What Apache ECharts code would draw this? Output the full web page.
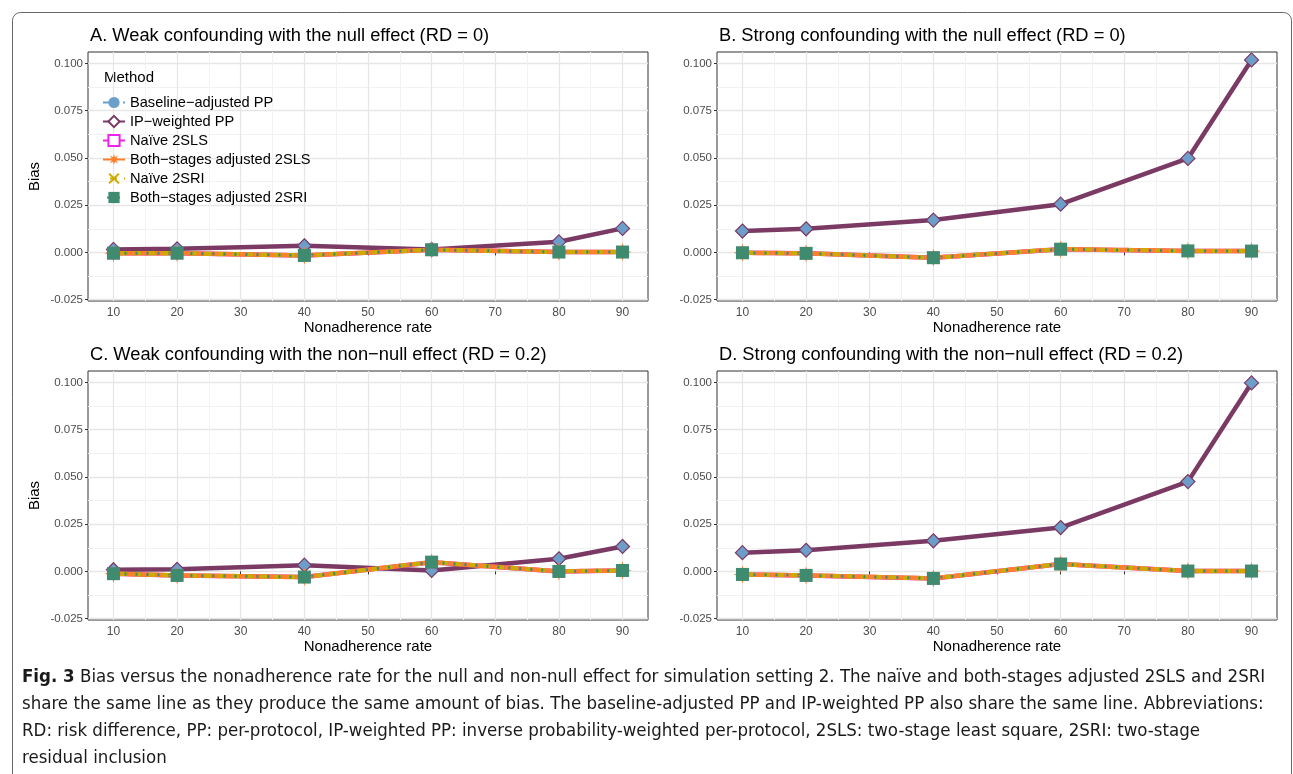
<!DOCTYPE html>
<html>
<head>
<meta charset="utf-8">
<script src="https://cdn.jsdelivr.net/npm/echarts@6/dist/echarts.min.js"></script>
<style>
  html, body { margin: 0; background: #fff; }
  #chart { width: 1293px; height: 774px; }
</style>
</head>
<body>
<div id="chart"></div>
<script>
// nonadherence rate (%) on the x axis
const nonadherence = [10, 20, 40, 60, 80, 90];

// bias; PP methods share one line, IV methods share another
const weakNullPP = [0.0016, 0.0019, 0.0035, 0.0016, 0.0056, 0.0127];
const weakNullIV = [-0.0004, -0.0004, -0.0016, 0.0014, 0.0002, 0.0002];
const strongNullPP = [0.0113, 0.0125, 0.0171, 0.0255, 0.0497, 0.1018];
const strongNullIV = [-0.0002, -0.0005, -0.0028, 0.0017, 0.0008, 0.0007];
const weakNonNullPP = [0.0009, 0.0011, 0.0033, 0.0005, 0.0067, 0.0132];
const weakNonNullIV = [-0.0012, -0.0021, -0.0030, 0.0049, 0.0000, 0.0005];
const strongNonNullPP = [0.0099, 0.0112, 0.0162, 0.0232, 0.0475, 0.0997];
const strongNonNullIV = [-0.0016, -0.0021, -0.0037, 0.0039, 0.0002, 0.0002];

const xTicks = [10, 20, 30, 40, 50, 60, 70, 80, 90];
const xMinor = [15, 25, 35, 45, 55, 65, 75, 85];
const yTicks = [-0.025, 0, 0.025, 0.05, 0.075, 0.1];
const yMinor = [-0.0125, 0.0125, 0.0375, 0.0625, 0.0875];

const methods = [
  "Baseline\u2212adjusted PP",
  "IP\u2212weighted PP",
  "Na\u00efve 2SLS",
  "Both\u2212stages adjusted 2SLS",
  "Na\u00efve 2SRI",
  "Both\u2212stages adjusted 2SRI",
];

const panelTitles = [
  "A. Weak confounding with the null effect (RD = 0)",
  "B. Strong confounding with the null effect (RD = 0)",
  "C. Weak confounding with the non\u2212null effect (RD = 0.2)",
  "D. Strong confounding with the non\u2212null effect (RD = 0.2)",
];
const panelPP = [weakNullPP, strongNullPP, weakNonNullPP, strongNonNullPP];
const panelIV = [weakNullIV, strongNullIV, weakNonNullIV, strongNonNullIV];

const FONT = "Liberation Sans";

// symbol paths
function starPath() {
  let d = "path://";
  for (let i = 0; i < 16; i++) {
    const a = (Math.PI / 8) * i - Math.PI / 2;
    const r = i % 2 === 0 ? 10 : 4.5;
    d += (i === 0 ? "M" : "L") + (r * Math.cos(a)).toFixed(2) + "," + (r * Math.sin(a)).toFixed(2) + " ";
  }
  return d + "Z";
}
const xPath = "path://M-10,-7.5 L-7.5,-10 L0,-2.5 L7.5,-10 L10,-7.5 L2.5,0 L10,7.5 L7.5,10 L0,2.5 L-7.5,10 L-10,7.5 L-2.5,0 Z";

const grids = [
  { left: 88, top: 52, width: 560, height: 249 },
  { left: 717, top: 52, width: 560, height: 249 },
  { left: 88, top: 371, width: 560, height: 249 },
  { left: 717, top: 371, width: 560, height: 249 },
];

const xAxes = [];
const yAxes = [];
const series = [];
const titles = [];

grids.forEach(function (g, i) {
  g.show = true;
  g.borderColor = "#333";
  g.borderWidth = 1;
  g.backgroundColor = "#fff";

  // minor grid axes
  xAxes.push({
    type: "value", gridIndex: i, min: 6, max: 94, position: "top",
    axisLine: { show: false }, axisLabel: { show: false },
    axisTick: { show: false, customValues: xMinor },
    splitLine: { show: true, lineStyle: { color: "#f2f2f2", width: 1 } },
  });
  yAxes.push({
    type: "value", gridIndex: i, min: -0.0257, max: 0.106, position: "right",
    axisLine: { show: false }, axisLabel: { show: false },
    axisTick: { show: false, customValues: yMinor },
    splitLine: { show: true, lineStyle: { color: "#f2f2f2", width: 1 } },
  });
  // main axes
  xAxes.push({
    type: "value", gridIndex: i, min: 6, max: 94, position: "bottom",
    name: "Nonadherence rate", nameLocation: "middle", nameGap: 18,
    nameTextStyle: { fontFamily: FONT, fontSize: 15, color: "#000" },
    axisLine: { show: false },
    axisTick: { show: true, length: 3, customValues: xTicks, lineStyle: { color: "#333" } },
    axisLabel: { customValues: xTicks, fontFamily: FONT, fontSize: 12, color: "#4d4d4d", margin: 6 },
    splitLine: { show: true, lineStyle: { color: "#e6e6e6", width: 1.3 } },
  });
  yAxes.push({
    type: "value", gridIndex: i, min: -0.0257, max: 0.106, position: "left",
    name: i % 2 === 0 ? "Bias" : "", nameLocation: "middle", nameGap: 46,
    nameTextStyle: { fontFamily: FONT, fontSize: 15, color: "#000" },
    axisLine: { show: false },
    axisTick: { show: true, length: 3, customValues: yTicks, lineStyle: { color: "#333" } },
    axisLabel: {
      customValues: yTicks, fontFamily: FONT, fontSize: 11.5, color: "#4d4d4d", margin: 5,
      formatter: function (v) { return v.toFixed(3); },
    },
    splitLine: { show: true, lineStyle: { color: "#e6e6e6", width: 1.3 } },
  });

  titles.push({
    text: panelTitles[i],
    left: g.left + 2,
    top: g.top - 25,
    padding: 0,
    textStyle: { fontFamily: FONT, fontSize: 18.3, fontWeight: "normal", color: "#000" },
  });

  const xi = i * 2 + 1;
  const pp = nonadherence.map(function (x, k) { return [x, panelPP[i][k]]; });
  const iv = nonadherence.map(function (x, k) { return [x, panelIV[i][k]]; });
  const common = { type: "line", xAxisIndex: xi, yAxisIndex: xi, silent: true };

  series.push(Object.assign({}, common, {
    name: methods[0], data: pp, symbol: "circle", symbolSize: 9,
    itemStyle: { color: "#6a9fcb" },
    lineStyle: { color: "#6a9fcb", width: 3, type: [6, 4] },
  }));
  series.push(Object.assign({}, common, {
    name: methods[1], data: pp, symbol: "diamond", symbolSize: 14,
    itemStyle: { color: "#6d9ec9", borderColor: "#7b3a64", borderWidth: 1.2 },
    lineStyle: { color: "#7b3a64", width: 4.5 },
  }));
  series.push(Object.assign({}, common, {
    name: methods[2], data: iv, symbol: "emptyRect", symbolSize: 10,
    itemStyle: { color: "#ee22e8", borderWidth: 2 },
    lineStyle: { color: "#ee22e8", width: 4.5 },
  }));
  series.push(Object.assign({}, common, {
    name: methods[3], data: iv, symbol: starPath(), symbolSize: 18,
    itemStyle: { color: "#ff7f2a" },
    lineStyle: { color: "#ff7f2a", width: 4.5, type: [8, 6] },
  }));
  series.push(Object.assign({}, common, {
    name: methods[4], data: iv, symbol: xPath, symbolSize: 12,
    itemStyle: { color: "#cfaa00" },
    lineStyle: { color: "#cfaa00", width: 4.5, type: [7, 7], dashOffset: 7 },
  }));
  series.push(Object.assign({}, common, {
    name: methods[5], data: iv, symbol: "rect", symbolSize: 13,
    itemStyle: { color: "#3e8b6f" },
    lineStyle: { color: "#3e8b6f", width: 3, type: [2, 9], cap: "butt" },
  }));
});

const caption = [
  "{b|Fig. 3} Bias versus the nonadherence rate for the null and non-null effect for simulation setting 2. The na\u00efve and both-stages adjusted 2SLS and 2SRI",
  "share the same line as they produce the same amount of bias. The baseline-adjusted PP and IP-weighted PP also share the same line. Abbreviations:",
  "RD: risk difference, PP: per-protocol, IP-weighted PP: inverse probability-weighted per-protocol, 2SLS: two-stage least square, 2SRI: two-stage",
  "residual inclusion",
];
const CAP_FONT = "'DejaVu Sans Condensed', 'Open Sans', sans-serif";

const graphics = [
  {
    type: "rect", left: 10, top: 10, z: -1,
    shape: { width: 1279, height: 800, r: 8 },
    style: { fill: "none", stroke: "#666", lineWidth: 1 },
  },
  {
    type: "text", left: 104, top: 70,
    style: { text: "Method", fontFamily: FONT, fontSize: 15, fill: "#000" },
  },
];
caption.forEach(function (line, k) {
  graphics.push({
    type: "text", left: 22, top: 668 + k * 27,
    style: {
      text: line, fontFamily: CAP_FONT, fontSize: 18.5, fill: "#1a1a1a",
      rich: { b: { fontFamily: CAP_FONT, fontSize: 18.5, fontWeight: "bold", fill: "#1a1a1a" } },
    },
  });
});

var chartDom = document.getElementById("chart");
var myChart = echarts.init(chartDom, null, { renderer: "canvas" });
var option = {
  animation: false,
  backgroundColor: "#fff",
  title: titles,
  grid: grids,
  xAxis: xAxes,
  yAxis: yAxes,
  legend: {
    orient: "vertical", left: 102, top: 95, padding: 0,
    itemWidth: 22, itemHeight: 14, itemGap: 4,
    selectedMode: false,
    textStyle: { fontFamily: FONT, fontSize: 14.6, color: "#000" },
    data: methods.map(function (m, k) {
      return k === 1 ? { name: m, itemStyle: { color: "#fff" } } : { name: m };
    }),
  },
  series: series,
  graphic: graphics,
};
myChart.setOption(option);
</script>
</body>
</html>
